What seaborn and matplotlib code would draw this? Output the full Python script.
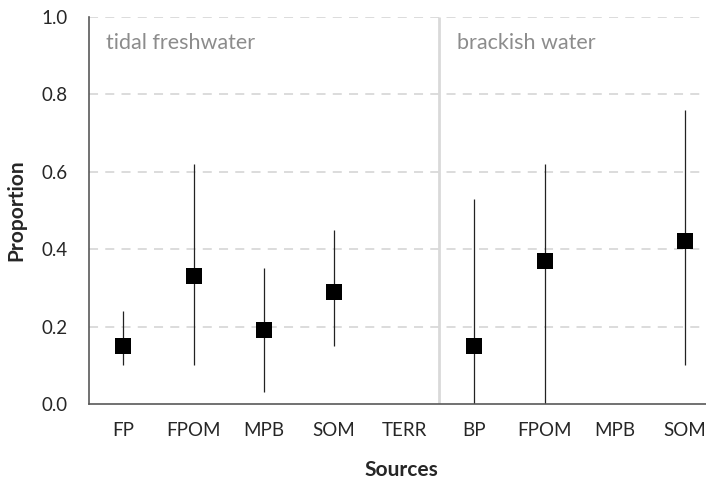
import numpy as np
import pandas as pd
import matplotlib
matplotlib.use("Agg")
import matplotlib.pyplot as plt
import seaborn as sns

# Mixing-model source contributions (median with credible interval)
sources = ["FP", "FPOM", "MPB", "SOM", "TERR", "BP", "FPOM", "MPB", "SOM"]
habitat = ["tidal freshwater"] * 5 + ["brackish water"] * 4
median = [0.15, 0.33, 0.19, 0.29, np.nan, 0.15, 0.37, np.nan, 0.42]
lower = [0.10, 0.10, 0.03, 0.15, np.nan, 0.00, 0.00, np.nan, 0.10]
upper = [0.24, 0.62, 0.35, 0.45, np.nan, 0.53, 0.62, np.nan, 0.76]
y_ticks = [0.0, 0.2, 0.4, 0.6, 0.8, 1.0]

df = pd.DataFrame({
    "pos": np.arange(len(sources)),
    "source": sources,
    "habitat": habitat,
    "median": median,
    "lower": lower,
    "upper": upper,
})

sns.set_style("white")
plt.rcParams["font.family"] = ["Lato", "DejaVu Sans"]

fig = plt.figure(figsize=(7.06, 4.82), dpi=100)
ax = fig.add_axes([0.126, 0.162, 0.884, 0.803])

# dashed horizontal grid
for yt in y_ticks[1:]:
    ax.axhline(yt, color="#d9d9d9", lw=1.3, ls=(0, (5, 4)), zorder=0)

# separator between the two habitats
ax.vlines(4.5, 0, 1.0, color="#d9d9d9", lw=2, zorder=1)

# interval lines
ok = df.dropna()
ax.vlines(ok["pos"], ok["lower"], ok["upper"], color="#222222", lw=0.9, zorder=2)

sns.scatterplot(data=ok, x="pos", y="median", marker="s", s=130, color="black",
                edgecolor="black", linewidth=0, ax=ax, zorder=3, legend=False)

ax.set_xlim(-0.49, 8.40)
ax.set_ylim(0, 1.0)
ax.set_yticks(y_ticks)
ax.set_yticklabels([f"{v:.1f}" for v in y_ticks])
ax.set_xticks(df["pos"])
ax.set_xticklabels(sources)
ax.tick_params(axis="both", length=0, labelsize=13.5, colors="#262626")
ax.tick_params(axis="y", pad=15)
ax.tick_params(axis="x", pad=13)

for side in ["top", "right"]:
    ax.spines[side].set_visible(False)
for side in ["left", "bottom"]:
    ax.spines[side].set_color("#595959")
    ax.spines[side].set_linewidth(1.2)

ax.set_xlabel("Sources", fontsize=15, fontweight="bold", labelpad=15)
ax.set_ylabel("Proportion", fontsize=15, fontweight="bold", labelpad=11)

ax.text(-0.245, 0.933, "tidal freshwater", fontsize=15.5, color="#8c8c8c",
        va="center", ha="left")
ax.text(4.755, 0.933, "brackish water", fontsize=15.5, color="#8c8c8c",
        va="center", ha="left")

fig.savefig("out.png", dpi=100)
